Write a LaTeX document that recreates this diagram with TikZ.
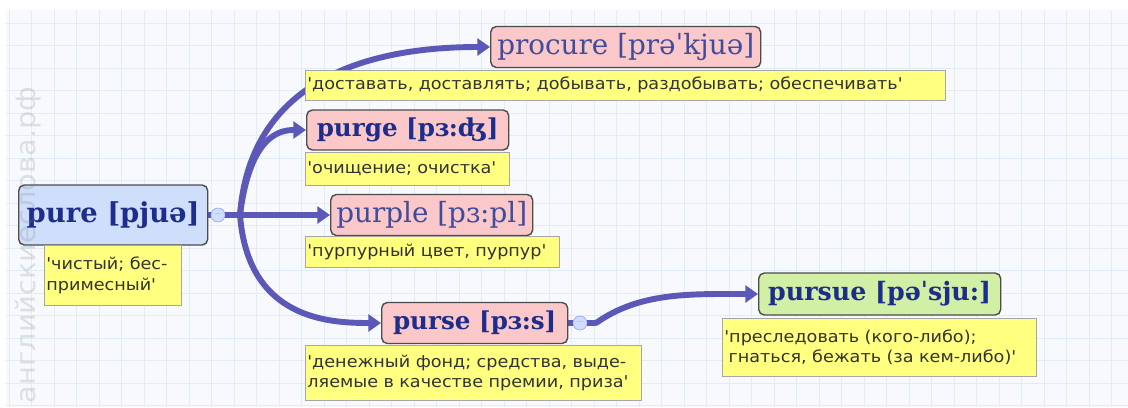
\documentclass[tikz,border=0pt]{standalone}
\usepackage{fontspec}
\usepackage{tikz}
\usetikzlibrary{arrows.meta, backgrounds}
\newfontfamily\wordfont{DejaVu Serif}
\newfontfamily\notefont{DejaVu Sans}[FakeStretch=1.08]
\definecolor{wordblue}{RGB}{28,45,140}
\definecolor{linkblue}{RGB}{92,88,184}
\definecolor{rootfill}{RGB}{207,222,250}
\definecolor{childfill}{RGB}{250,200,200}
\definecolor{leaffill}{RGB}{210,240,165}
\definecolor{notefill}{RGB}{255,255,128}
\definecolor{gridline}{RGB}{226,236,246}
\definecolor{paper}{RGB}{247,249,252}

\begin{document}
\begin{tikzpicture}[x=0.25mm, y=-0.25mm,
	word/.style={draw=black!70, line width=1pt, rounded corners=4pt, anchor=west,
		text=wordblue, font=\wordfont\fontsize{17.5}{20}\selectfont\bfseries,
		minimum height=10.25mm, inner sep=0pt},
	light/.style={font=\wordfont\fontsize{19.8}{22}\selectfont, text=wordblue!85},
	note/.style={draw=black!35, fill=notefill, anchor=north west, align=left,
		text=black!80, font=\notefont\fontsize{11.6}{14.5}\selectfont,
		inner xsep=1.5pt, inner ysep=1pt},
	fold/.style={circle, draw=rootfill!70!blue, fill=rootfill, inner sep=0pt,
		minimum size=3.5mm, font=\scriptsize, text=linkblue!70},
	trunk/.style={draw=linkblue, line width=4.2pt},
	link/.style={trunk, line cap=round, -{Triangle[length=9pt, width=12pt]}}]
			\useasboundingbox (0,0) rectangle (1128,407);

			% Fondo con cuadricula
			\begin{scope}[on background layer]
				\fill[white] (0,0) rectangle (1128,407);
				\fill[paper] (6,10) rectangle (1128,407);
				\foreach \x in {9,31.5,...,1128} \draw[gridline] (\x,10) -- (\x,407);
				\foreach \y in {23,45.5,...,407} \draw[gridline] (6,\y) -- (1128,\y);
			\end{scope}

			% Palabra principal
			\node[word, fill=rootfill, minimum width=47.25mm, minimum height=15mm, font=\wordfont\fontsize{19.5}{22}\selectfont\bfseries] (pure) at (18,215) {pure [pjuə]};
			\node[fold] (purefold) at (218,215) {\textendash};
			\coordinate (purefork) at (240,215);

			% Palabras derivadas
			\node[word, light, fill=childfill, minimum width=67.5mm] (procure) at (490,47) {procure [prəˈkjuə]};
			\node[word, fill=childfill, minimum width=50.5mm, minimum height=10mm] (purge) at (306,130) {purge [pɜ:ʤ]};
			\node[word, light, fill=childfill, minimum width=50.5mm] (purple) at (330,215) {purple [pɜ:pl]};
			\node[word, fill=childfill, minimum width=46.5mm] (purse) at (381,323) {purse [pɜ:s]};
			\node[fold] (pursefold) at (580,323) {\textendash};
			\coordinate (pursefork) at (596,323);
			\node[word, fill=leaffill, minimum width=60.5mm, minimum height=10.5mm, font=\wordfont\fontsize{18}{20}\selectfont\bfseries] (pursue) at (758,294) {pursue [pəˈsju:]};

			% Traducciones
			\node[note, text width=33.2mm, minimum height=15mm] (purenote) at (44,245) {'чистый; бес-\\примесный'};
			\node[note, text width=159mm, minimum height=7.5mm] (procurenote) at (305,70) {'доставать, доставлять; добывать, раздобывать; обеспечивать'};
			\node[note, text width=50mm, minimum height=8.25mm] (purgenote) at (305,152) {'очищение; очистка'};
			\node[note, text width=62.4mm, minimum height=7.75mm] (purplenote) at (305,236) {'пурпурный цвет, пурпур'};
			\node[note, text width=83mm, minimum height=13.75mm] (pursenote) at (305,345) {'денежный фонд; средства, выде-\\ляемые в качестве премии, приза'};
			\node[note, text width=77.4mm, minimum height=14.5mm] (pursuenote) at (722,318) {'преследовать (кого-либо);\\\hspace*{3pt}гнаться, бежать (за кем-либо)'};

			% Flechas
			\begin{scope}[on background layer]
				\draw[trunk] (pure.east) -- (purefold) -- (purefork);
				\draw[link] (purefork) .. controls (248,105) and (330,47) .. (procure.west);
				\draw[link] (purefork) .. controls (250,135) and (280,130) .. (purge.west);
				\draw[link] (purefork) -- (purple.west);
				\draw[link] (purefork) .. controls (248,320) and (330,323) .. (purse.west);
				\draw[trunk] (purse.east) -- (pursefold) -- (pursefork);
				\draw[link] (pursefork) .. controls (640,292) and (690,294) .. (pursue.west);
			\end{scope}

			\node[rotate=90, anchor=west, text=gray, opacity=0.22, font=\notefont\fontsize{19}{19}\selectfont] (mark) at (28,408) {английскиеслова.рф};
		\end{tikzpicture}
\end{document}
